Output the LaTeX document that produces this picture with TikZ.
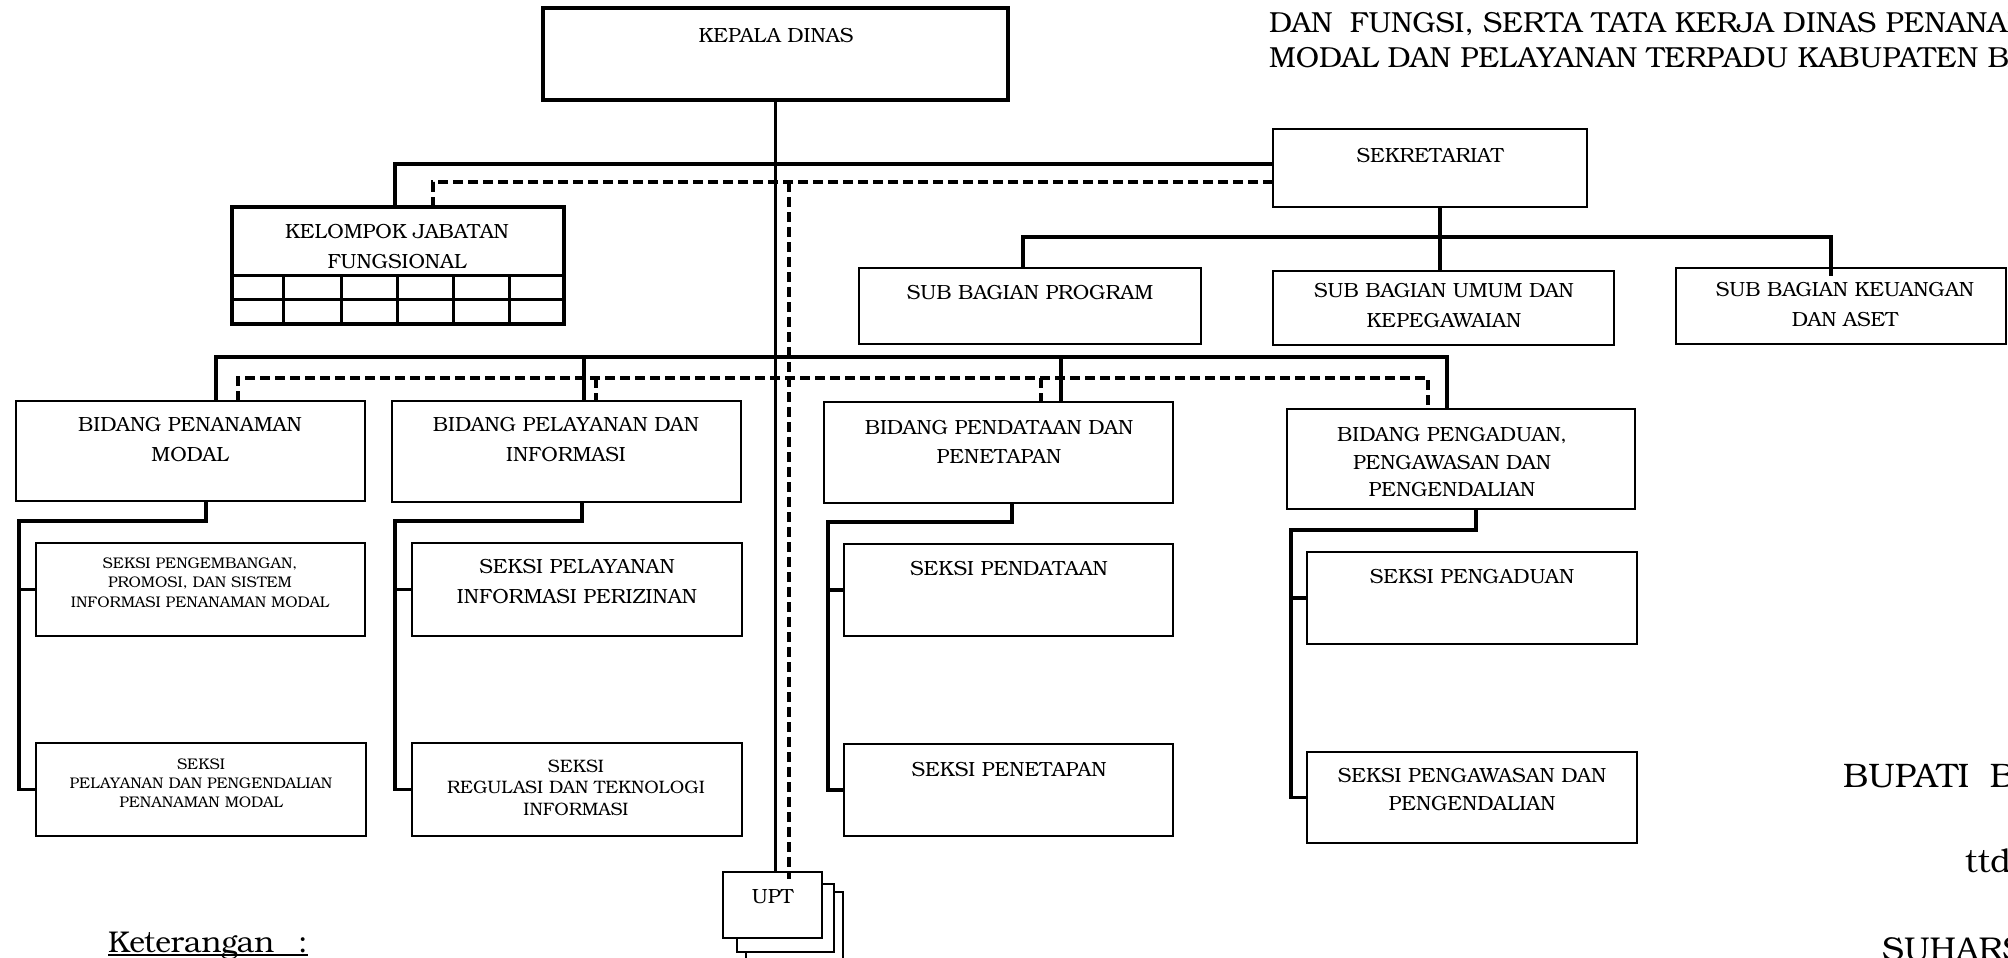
\documentclass[tikz,border=0pt]{standalone}
\usepackage{fontspec}
\IfFontExistsTF{texgyrebonum-regular.otf}{\setmainfont{texgyrebonum-regular.otf}}{\setmainfont{DejaVu Serif}}
\begin{document}
\begin{tikzpicture}[x=1pt,y=-1pt,
  box/.style={draw, line width=2pt, inner sep=0pt, outer sep=0pt, anchor=north west},
  bigbox/.style={box, line width=4pt},
  uptbox/.style={box, line width=1.8pt, fill=white},
  conn/.style={line width=3.5pt},
  dconn/.style={line width=3.5pt, dash pattern=on 10pt off 5pt},
  grid/.style={line width=3pt},
  lbl/.style={inner sep=0pt, align=center, font=\fontsize{20.5}{30}\selectfont},
  slbl/.style={inner sep=0pt, align=center, font=\fontsize{15.4}{19.5}\selectfont},
  big/.style={inner sep=0pt, anchor=base west, font=\fontsize{29}{35}\selectfont},
  bigger/.style={inner sep=0pt, anchor=base west, font=\fontsize{33}{40}\selectfont}]
\useasboundingbox (0,0) rectangle (2008,958);
\clip (0,0) rectangle (2008,958);

% header
\node[big] (h1) at (1269,33) {DAN\hspace{0.6em}FUNGSI, SERTA TATA KERJA DINAS PENANAMAN};
\node[big] (h2) at (1269,67) {MODAL DAN PELAYANAN TERPADU KABUPATEN BANTUL};

% top
\node[bigbox, minimum width=465pt, minimum height=92pt] (kepala) at (543,8) {};
\node[lbl] (kepalaT) at (776,36) {KEPALA DINAS};

\node[box, minimum width=314pt, minimum height=78pt] (sekr) at (1273,129) {};
\node[lbl] (sekrT) at (1430,156) {SEKRETARIAT};

\node[bigbox, minimum width=332pt, minimum height=117pt] (kjf) at (232,207) {};
\node[lbl] (kjfT) at (397,247) {KELOMPOK JABATAN\\FUNGSIONAL};
\draw[grid] ([yshift=-68pt]kjf.north west) -- ([yshift=-68pt]kjf.north east);
\draw[grid] ([yshift=-92pt]kjf.north west) -- ([yshift=-92pt]kjf.north east);
\foreach \dx in {51,109,165,221,277}
  \draw[grid] ([xshift=\dx pt,yshift=-68pt]kjf.north west) -- ([xshift=\dx pt]kjf.south west);

% sub bagian
\node[box, minimum width=342pt, minimum height=76pt] (subprog) at (859,268) {};
\node[lbl] (subprogT) at (1030,293) {SUB BAGIAN PROGRAM};
\node[box, minimum width=341pt, minimum height=74pt] (subumum) at (1273,271) {};
\node[lbl] (subumumT) at (1444,306) {SUB BAGIAN UMUM DAN\\KEPEGAWAIAN};
\node[box, minimum width=330pt, minimum height=76pt] (subkeu) at (1676,268) {};
\node[lbl] (subkeuT) at (1845,305) {SUB BAGIAN KEUANGAN\\DAN ASET};

% bidang
\node[box, minimum width=349pt, minimum height=100pt] (bid1) at (16,401) {};
\node[lbl] (bid1T) at (190,440) {BIDANG PENANAMAN\\MODAL};
\node[box, minimum width=349pt, minimum height=101pt] (bid2) at (392,401) {};
\node[lbl] (bid2T) at (566,440) {BIDANG PELAYANAN DAN\\INFORMASI};
\node[box, minimum width=349pt, minimum height=101pt] (bid3) at (824,402) {};
\node[lbl, font=\fontsize{20.5}{29}\selectfont] (bid3T) at (999,441.5) {BIDANG PENDATAAN DAN\\PENETAPAN};
\node[box, minimum width=348pt, minimum height=100pt] (bid4) at (1287,409) {};
\node[lbl, font=\fontsize{20.5}{27.5}\selectfont] (bid4T) at (1452,462.5) {BIDANG PENGADUAN,\\PENGAWASAN DAN\\PENGENDALIAN};

% seksi
\node[box, minimum width=329pt, minimum height=93pt] (s11) at (36,543) {};
\node[slbl] (s11T) at (200,582.5) {SEKSI PENGEMBANGAN,\\PROMOSI, DAN SISTEM\\INFORMASI PENANAMAN MODAL};
\node[box, minimum width=330pt, minimum height=93pt] (s12) at (36,743) {};
\node[slbl, font=\fontsize{15.4}{19}\selectfont] (s12T) at (201,783) {SEKSI\\PELAYANAN DAN PENGENDALIAN\\PENANAMAN MODAL};
\node[box, minimum width=330pt, minimum height=93pt] (s21) at (412,543) {};
\node[lbl] (s21T) at (577,582) {SEKSI PELAYANAN\\INFORMASI PERIZINAN};
\node[box, minimum width=330pt, minimum height=93pt] (s22) at (412,743) {};
\node[lbl, font=\fontsize{18}{21.5}\selectfont] (s22T) at (576,787.5) {SEKSI\\REGULASI DAN TEKNOLOGI\\INFORMASI};
\node[box, minimum width=329pt, minimum height=92pt] (s31) at (844,544) {};
\node[lbl] (s31T) at (1009,569) {SEKSI PENDATAAN};
\node[box, minimum width=329pt, minimum height=92pt] (s32) at (844,744) {};
\node[lbl] (s32T) at (1009,770) {SEKSI PENETAPAN};
\node[box, minimum width=330pt, minimum height=92pt] (s41) at (1307,552) {};
\node[lbl] (s41T) at (1472,577) {SEKSI PENGADUAN};
\node[box, minimum width=330pt, minimum height=91pt] (s42) at (1307,752) {};
\node[lbl, font=\fontsize{20.5}{28}\selectfont] (s42T) at (1472,790) {SEKSI PENGAWASAN DAN\\PENGENDALIAN};

% UPT stack
\node[uptbox, minimum width=97pt, minimum height=83pt] (upt3) at (746,892) {};
\node[uptbox, minimum width=97pt, minimum height=68pt] (upt2) at (737,884) {};
\node[uptbox, minimum width=99pt, minimum height=66pt] (upt) at (723,872) {};
\node[lbl] (uptT) at ([yshift=8pt]upt.center) {UPT};

% connectors: top level
\coordinate (t1) at (395,164);
\coordinate (t2) at (433,182);
\coordinate (dv) at (789,182);
\draw[conn] (kepala.south) -- (kepala.south |- upt.north);
\draw[conn] (t1 -| sekr.west) -- (t1) -- (t1 |- kjf.north);
\draw[dconn] (t2 -| sekr.west) -- (t2) -- (t2 |- kjf.north);
\draw[dconn] (dv) -- ([yshift=-7pt]dv |- upt.north);

% sub bagian
\coordinate (sb1) at (1023,237);
\coordinate (sb2) at (1831,237);
\coordinate (sb3) at (1440,237);
\draw[conn] (sb1 |- subprog.north) -- (sb1) -- (sb2) -- ([yshift=-8pt]sb2 |- subkeu.north);
\draw[conn] (sb3 |- sekr.south) -- (sb3 |- subumum.north);

% bidang
\coordinate (b1) at (216,357);
\coordinate (b2) at (584,357);
\coordinate (b3) at (1061,357);
\coordinate (b4) at (1447,357);
\draw[conn] (b1 |- bid1.north) -- (b1) -- (b4) -- (b4 |- bid4.north);
\draw[conn] (b2) -- (b2 |- bid2.north);
\draw[conn] (b3) -- (b3 |- bid3.north);
\coordinate (d1) at (238,378);
\coordinate (d2) at (596,378);
\coordinate (d3) at (1041,378);
\coordinate (d4) at (1428,378);
\draw[dconn] (d1 |- bid1.north) -- (d1) -- (d4) -- (d4 |- bid4.north);
\draw[dconn] (d2) -- (d2 |- bid2.north);
\draw[dconn] (d3) -- (d3 |- bid3.north);

% seksi connectors
\coordinate (e1) at (206,521);  \coordinate (f1) at (19,521);
\coordinate (e2) at (582,521);  \coordinate (f2) at (395,521);
\coordinate (e3) at (1012,522); \coordinate (f3) at (828,522);
\coordinate (e4) at (1476,530); \coordinate (f4) at (1291,530);
\draw[conn] (e1 |- bid1.south) -- (e1) -- (f1) -- (f1 |- s12.west) -- (s12.west);
\draw[conn] (f1 |- s11.west) -- (s11.west);
\draw[conn] (e2 |- bid2.south) -- (e2) -- (f2) -- (f2 |- s22.west) -- (s22.west);
\draw[conn] (f2 |- s21.west) -- (s21.west);
\draw[conn] (e3 |- bid3.south) -- (e3) -- (f3) -- (f3 |- s32.west) -- (s32.west);
\draw[conn] (f3 |- s31.west) -- (s31.west);
\draw[conn] (e4 |- bid4.south) -- (e4) -- (f4) -- (f4 |- s42.west) -- (s42.west);
\draw[conn] (f4 |- s41.west) -- (s41.west);

% footer texts
\node[big, font=\fontsize{30}{36}\selectfont] (ket) at (108,952) {Keterangan\hspace{0.8em}:};
\draw[line width=1.6pt] ([yshift=-3pt]ket.base west) -- ([yshift=-3pt]ket.base east);
\node[bigger, font=\fontsize{34}{40}\selectfont] (bup) at (1843,787) {BUPATI\hspace{0.6em}BANTUL};
\node[bigger] (ttd) at (1965,872) {ttd};
\node[bigger] (suh) at (1882,960) {SUHARSONO};
\end{tikzpicture}
\end{document}
